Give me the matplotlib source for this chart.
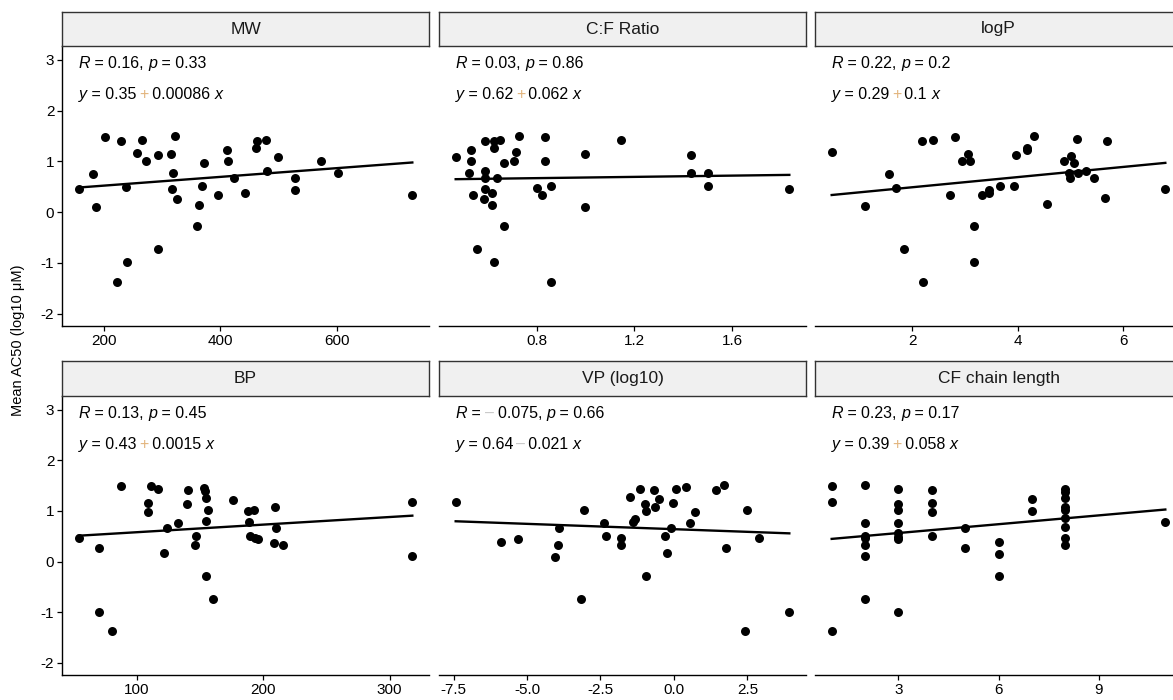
import numpy as np
import matplotlib.pyplot as plt

plt.rcParams['font.family'] = ['Liberation Sans', 'DejaVu Sans']
plt.rcParams['axes.unicode_minus'] = False

#-------------------------------- DATA -------------------------------------
panel_titles = ['MW', 'C:F Ratio', 'logP', 'BP', 'VP (log10)', 'CF chain length']

mw_x = [157, 181, 186, 203, 222, 229, 239, 240, 258, 265, 273, 293, 293, 315, 319, 317, 323, 325,
        360, 363, 369, 372, 397, 411, 413, 423, 443, 462, 464, 478, 480, 499, 529, 528, 573, 602, 730]
mw_y = [0.46, 0.76, 0.10, 1.48, -1.38, 1.40, 0.50, -0.99, 1.17, 1.43, 1.01, 1.12, -0.73, 1.14, 0.77, 0.45, 1.50, 0.26,
        -0.27, 0.14, 0.51, 0.97, 0.33, 1.22, 1.01, 0.67, 0.38, 1.26, 1.40, 1.43, 0.82, 1.08, 0.67, 0.44, 1.01, 0.77, 0.33]

cf_x = [0.469, 0.533, 0.533, 0.522, 0.539, 0.558, 0.588, 0.588, 0.588, 0.588, 0.584, 0.616, 0.616, 0.624, 0.624,
        0.649, 0.638, 0.624, 0.667, 0.667, 0.707, 0.716, 0.728, 0.800, 0.824, 0.834, 0.834, 0.859, 0.859,
        1.000, 1.000, 1.144, 1.430, 1.430, 1.501, 1.501, 1.834]
cf_y = [1.08, 1.22, 1.00, 0.77, 0.33, -0.73, 1.40, 0.82, 0.68, 0.45, 0.26, 0.38, 0.15, 1.40, 1.27,
        1.43, 0.68, -0.99, 0.97, -0.27, 1.01, 1.18, 1.50, 0.48, 0.33, 1.48, 1.01, 0.51, -1.38,
        1.14, 0.10, 1.43, 1.12, 0.77, 0.77, 0.51, 0.46]

logp_x = [0.476, 1.106, 1.565, 1.69, 1.84, 2.18, 2.20, 2.40, 2.71, 2.81, 2.95, 3.06, 3.10, 3.17, 3.18, 3.32,
          3.45, 3.46, 3.66, 3.93, 3.97, 4.17, 4.17, 4.31, 4.56, 4.88, 5.02, 5.07, 4.98, 5.00, 5.12, 5.14,
          5.29, 5.45, 5.65, 5.70, 6.80]
logp_y = [1.18, 0.12, 0.76, 0.47, -0.73, 1.41, -1.38, 1.43, 0.33, 1.48, 1.01, 1.14, 1.01, -0.27, -0.99, 0.33,
          0.44, 0.37, 0.51, 0.51, 1.12, 1.27, 1.22, 1.50, 0.16, 1.01, 1.10, 0.97, 0.77, 0.67, 1.44, 0.78,
          0.82, 0.67, 0.27, 1.41, 0.45]

bp_x = [53.9, 69.7, 69.7, 80.0, 87.6, 108.4, 108.4, 111.1, 116.3, 121.6, 123.7, 132.1, 139.5, 140.3, 146.3,
        147.1, 152.9, 153.7, 154.5, 154.7, 154.5, 156.3, 160.5, 176.1, 188.2, 188.7, 189.7, 192.9, 193.7,
        196.1, 208.4, 209.2, 210.3, 215.5, 317.9, 317.9]
bp_y = [0.47, 0.27, -1.00, -1.38, 1.50, 1.15, 0.97, 1.49, 1.44, 0.16, 0.67, 0.76, 1.13, 1.42, 0.32,
        0.51, 1.45, 1.40, -0.29, 1.26, 0.81, 1.02, -0.73, 1.22, 0.99, 0.78, 0.51, 1.02, 0.47,
        0.44, 0.37, 1.08, 0.67, 0.33, 1.18, 0.11]

vp_x = [-7.43, -5.90, -5.31, -4.04, -3.95, -3.91, -3.17, -3.07, -2.39, -2.30, -1.80, -1.80, -1.51, -1.40,
        -1.31, -1.15, -1.00, -0.96, -0.94, -0.69, -0.63, -0.52, -0.29, -0.23, -0.09, -0.04, 0.06, 0.41,
        0.54, 0.73, 1.45, 1.71, 1.77, 2.43, 2.49, 2.91, 3.93]
vp_y = [1.18, 0.38, 0.44, 0.10, 0.33, 0.67, -0.73, 1.02, 0.77, 0.51, 0.46, 0.33, 1.27, 0.79,
        0.84, 1.44, 1.14, 1.00, -0.28, 1.41, 1.08, 1.23, 0.51, 0.16, 0.67, 1.15, 1.44, 1.48,
        0.76, 0.97, 1.41, 1.51, 0.27, -1.38, 1.01, 0.47, -1.00]

chain_x = [1, 1, 1, 2, 2, 2, 2, 2, 2, 2, 3, 3, 3, 3, 3, 3, 3, 3, 4, 4, 4, 4, 5, 5, 6, 6, 6, 7, 7,
           8, 8, 8, 8, 8, 8, 8, 8, 8, 11]
chain_y = [1.49, 1.18, -1.38, 1.51, 0.76, 0.50, 0.46, 0.33, 0.12, -0.74, 1.44, 1.13, 1.02, 0.77, 0.56, 0.49, 0.45, -1.00,
           1.41, 1.15, 0.97, 0.50, 0.67, 0.26, 0.38, 0.15, -0.29, 1.23, 1.00,
           1.44, 1.38, 1.26, 1.08, 1.02, 0.86, 0.69, 0.46, 0.33, 0.78]

# regression labels as printed on the chart
r_vals = ['0.16', '0.03', '0.22', '0.13', '0.075', '0.23']
r_neg = [False, False, False, False, True, False]
p_vals = ['0.33', '0.86', '0.2', '0.45', '0.66', '0.17']
intercepts = [0.35, 0.62, 0.29, 0.43, 0.64, 0.39]
slopes = [0.00086, 0.062, 0.1, 0.0015, -0.021, 0.058]
slope_txt = ['0.00086', '0.062', '0.1', '0.0015', '0.021', '0.058']

x_ticks = [[200, 400, 600], [0.8, 1.2, 1.6], [2, 4, 6], [100, 200, 300], [-7.5, -5.0, -2.5, 0.0, 2.5], [3, 6, 9]]
x_ticklabels = [['200', '400', '600'], ['0.8', '1.2', '1.6'], ['2', '4', '6'], ['100', '200', '300'],
                ['-7.5', '-5.0', '-2.5', '0.0', '2.5'], ['3', '6', '9']]
y_ticks = [-2, -1, 0, 1, 2, 3]

xs = [mw_x, cf_x, logp_x, bp_x, vp_x, chain_x]
ys = [mw_y, cf_y, logp_y, bp_y, vp_y, chain_y]


#-------------------------------- HELPERS -------------------------------------
def rich_text(ax, x, y, parts, size=11.5):
    # chain text pieces one after the other (italic / coloured bits)
    t = None
    for s, style, color in parts:
        if t is None:
            t = ax.text(x, y, s, fontsize=size, style=style, color=color, ha='left', va='center')
        else:
            t = ax.annotate(s, xy=(1, 0), xycoords=t, fontsize=size, style=style, color=color,
                            ha='left', va='bottom')


#-------------------------------- PLOT GRAPH -------------------------------------
W, H = 1173., 700.
fig = plt.figure(figsize=(11.73, 7.0), dpi=100)

col_left = [62, 439, 815]
col_w = 367
rows = [(46, 326, 12), (396, 675, 361)]  # plot top, plot bottom, strip top

for i in range(6):
    r, c = divmod(i, 3)
    top, bot, stop = rows[r]
    ax = fig.add_axes([col_left[c] / W, 1 - bot / H, col_w / W, (bot - top) / H])
    x = np.array(xs[i], dtype=float)
    y = np.array(ys[i], dtype=float)

    ax.scatter(x, y, s=42, color='black', linewidths=0, zorder=3)
    xl = np.array([x.min(), x.max()])
    ax.plot(xl, intercepts[i] + slopes[i] * xl, color='black', lw=1.7, zorder=2)

    span = x.max() - x.min()
    ax.set_xlim(x.min() - 0.05 * span, x.max() + 0.05 * span)
    ax.set_ylim(-2.24, 3.27)

    for side in ['top', 'right']:
        ax.spines[side].set_visible(False)
    ax.spines['bottom'].set_linewidth(1.0)
    ax.spines['left'].set_linewidth(1.0)
    ax.set_xticks(x_ticks[i])
    ax.set_xticklabels(x_ticklabels[i])
    ax.set_yticks(y_ticks)
    ax.tick_params(axis='both', length=3.5, width=0.9, labelsize=11, colors='black', pad=2)
    if c != 0:
        ax.spines['left'].set_visible(False)
        ax.tick_params(axis='y', left=False, labelleft=False)

    # correlation + equation labels
    minus_col = '#c8c8c8'
    plus_col = '#e2b47c'
    rpart = [('R', 'italic', 'black'), (' = ', 'normal', 'black')]
    if r_neg[i]:
        rpart += [('\u2013', 'normal', minus_col), ('\u2009', 'normal', 'black')]
    rpart += [(r_vals[i] + ', ', 'normal', 'black'), ('p', 'italic', 'black'),
              (' = ' + p_vals[i], 'normal', 'black')]
    rich_text(ax, x.min(), 2.93, rpart)

    sign = '+' if slopes[i] >= 0 else '\u2013'
    scol = plus_col if slopes[i] >= 0 else minus_col
    epart = [('y', 'italic', 'black'), (' = %.2f' % intercepts[i] + '\u2009', 'normal', 'black'),
             (sign, 'normal', scol), ('\u2009' + slope_txt[i] + ' ', 'normal', 'black'),
             ('x', 'italic', 'black')]
    rich_text(ax, x.min(), 2.32, epart)

    # facet strip
    sax = fig.add_axes([col_left[c] / W, 1 - top / H, col_w / W, (top - stop) / H])
    sax.set_facecolor('#f0f0f0')
    sax.set_xticks([])
    sax.set_yticks([])
    for sp in sax.spines.values():
        sp.set_color('#333333')
        sp.set_linewidth(1.0)
    sax.text(0.5, 0.5, panel_titles[i], ha='center', va='center', fontsize=12.5, color='#1a1a1a',
             transform=sax.transAxes)

fig.text(18 / W, 1 - 340 / H, 'Mean AC50 (log10 \u03bcM)', rotation=90, ha='center', va='center',
         fontsize=10.5, color='black')

plt.savefig('out.png', dpi=100)
